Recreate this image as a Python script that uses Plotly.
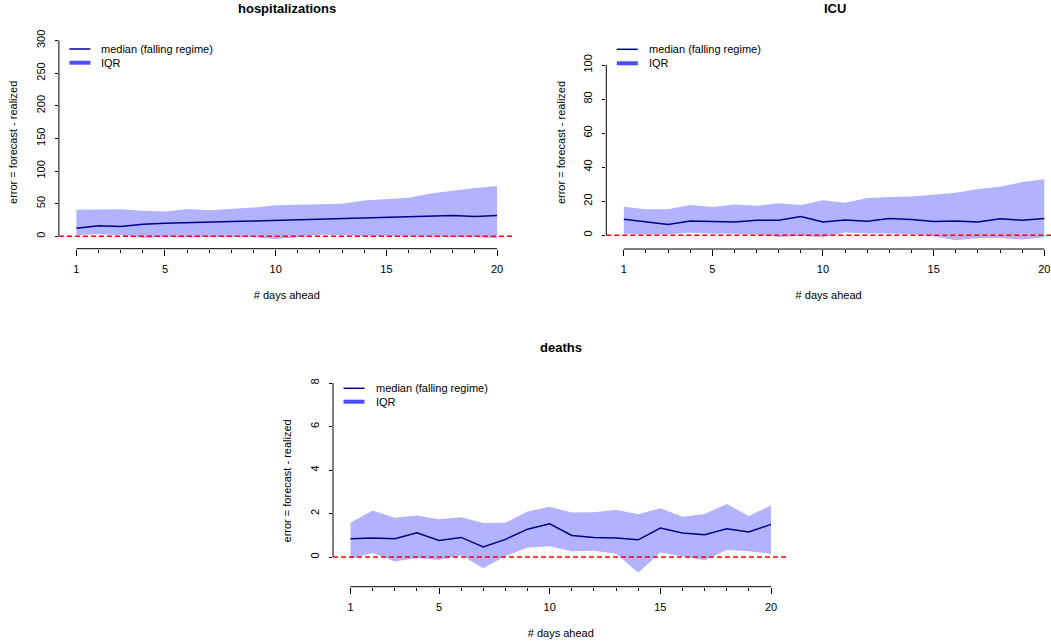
import plotly.graph_objects as go

# ---------------- data ----------------
days = list(range(1, 21))

hosp_upper = [40.5, 41, 41.5, 39, 38, 42, 40, 42, 44, 47.5, 48.5, 49, 50, 55, 57.5, 59, 65.5, 70, 74, 77]
hosp_median = [12.3, 16, 15, 18.5, 20, 20.5, 21, 22.5, 23.5, 24.5, 25.5, 26, 27, 28, 28.5, 29.5, 31.5, 32, 30.5, 32]
hosp_lower = [2, 3, 1.5, -2.5, -1, -2, -1, -0.5, -1.5, -4, -1.5, 2.5, 1.5, 0, 0, -0.5, 0, -0.5, -1, -3]

icu_upper = [16.7, 15.3, 15.3, 17.8, 16.5, 18, 17.3, 18.8, 17.8, 20.6, 19, 21.8, 22.4, 22.7, 23.9, 24.9, 27.1, 28.4, 31.2, 32.9]
icu_median = [9.4, 7.8, 6.3, 8.4, 8.2, 7.8, 8.8, 8.8, 11, 7.8, 9, 8.2, 9.8, 9.2, 8, 8.4, 7.8, 9.6, 8.8, 9.8]
icu_lower = [0.8, 0.4, 0.6, 1.4, 0.8, 0.8, 0.2, -1, -0.4, -1.2, 1.6, 1, 1, 0.6, -0.8, -2.9, -1.8, -1.6, -2.5, -1.2]

deaths_upper = [1.57, 2.14, 1.8, 1.91, 1.74, 1.83, 1.56, 1.57, 2.09, 2.31, 2.05, 2.06, 2.17, 1.97, 2.24, 1.85, 1.98, 2.44, 1.88, 2.37]
deaths_median = [0.84, 0.87, 0.84, 1.11, 0.76, 0.9, 0.46, 0.81, 1.28, 1.53, 0.99, 0.9, 0.87, 0.79, 1.33, 1.1, 1.02, 1.3, 1.15, 1.5]
deaths_lower = [-0.09, 0.18, -0.21, -0.05, -0.14, 0.08, -0.52, 0.05, 0.43, 0.5, 0.26, 0.29, 0.15, -0.72, 0.21, 0.03, -0.15, 0.32, 0.27, 0.15]

x_tickvals = [1, 5, 10, 15, 20]
hosp_yticks = [0, 50, 100, 150, 200, 250, 300]
icu_yticks = [0, 20, 40, 60, 80, 100]
deaths_yticks = [0, 2, 4, 6, 8]

titles = ["hospitalizations", "ICU", "deaths"]
legend_labels = ["median (falling regime)", "IQR"]
x_title = "# days ahead"
y_title = "error = forecast - realized"

# ---------------- layout geometry (pixels) ----------------
W, H = 1051, 642
FONT = "Liberation Sans, Arial, Helvetica, sans-serif"
MEDIAN_COLOR = "#00008B"
FILL_COLOR = "rgba(0,0,255,0.3)"
IQR_LEGEND_COLOR = "rgba(0,0,255,0.7)"

panels = [
    dict(upper=hosp_upper, median=hosp_median, lower=hosp_lower, yticks=hosp_yticks,
         left=58.9, right=514.6, p1=76.4, p20=497.1, axis_y=248.7, top=36,
         v0px=236.3, vrefpx=40.5, title_x=286.7, title_y=8.3, leg_y=(49, 62.7)),
    dict(upper=icu_upper, median=icu_median, lower=icu_lower, yticks=icu_yticks,
         left=606.3, right=1051, p1=623.8, p20=1044.3, axis_y=249, top=36,
         v0px=235.2, vrefpx=65, title_x=835, title_y=8.3, leg_y=(49.3, 63.3)),
    dict(upper=deaths_upper, median=deaths_median, lower=deaths_lower, yticks=deaths_yticks,
         left=333, right=788.6, p1=350.5, p20=771, axis_y=586.7, top=375,
         v0px=557, vrefpx=383, title_x=561, title_y=347.3, leg_y=(388.3, 401.7)),
]


def fx(px):
    return px / W


def fy(py):
    return 1 - py / H


fig = go.Figure()
shapes = []
annotations = []

for i, p in enumerate(panels):
    n = "" if i == 0 else str(i + 1)
    xa, ya = "x" + n, "y" + n

    # IQR band
    fig.add_trace(go.Scatter(
        x=days + days[::-1], y=p["lower"] + p["upper"][::-1],
        fill="toself", fillcolor=FILL_COLOR, line=dict(width=0),
        mode="lines", showlegend=False, hoverinfo="skip", xaxis=xa, yaxis=ya,
        name="IQR"))
    # median line
    fig.add_trace(go.Scatter(
        x=days, y=p["median"], mode="lines",
        line=dict(color=MEDIAN_COLOR, width=1.5), showlegend=False,
        xaxis=xa, yaxis=ya, name="median (falling regime)"))

    s = (p["p20"] - p["p1"]) / 19.0
    xr = [1 + (p["left"] - p["p1"]) / s, 1 + (p["right"] - p["p1"]) / s]
    vref = p["yticks"][-1]
    k = (p["v0px"] - p["vrefpx"]) / vref
    yr = [-(p["axis_y"] - p["v0px"]) / k, (p["v0px"] - p["top"]) / k]

    fig.update_layout(**{
        "xaxis" + n: dict(
            domain=[fx(p["left"]), fx(p["right"])], range=xr, anchor=ya,
            tickmode="array", tickvals=x_tickvals, ticktext=[str(v) for v in x_tickvals],
            ticks="outside", ticklen=6, tickwidth=1, tickcolor="black",
            minor=dict(tickmode="linear", tick0=1, dtick=1, ticks="outside",
                       ticklen=3, tickwidth=1, tickcolor="black", showgrid=False),
            showline=False, showgrid=False, zeroline=False,
            tickfont=dict(family=FONT, size=11, color="black"),
            ticklabelstandoff=4,
            title=dict(text=x_title, font=dict(family=FONT, size=11, color="black"),
                       standoff=17),
        ),
        "yaxis" + n: dict(
            domain=[fy(p["axis_y"]), fy(p["top"])], range=yr, anchor=xa,
            tickmode="array", tickvals=p["yticks"], ticktext=[str(v) for v in p["yticks"]],
            ticks="outside", ticklen=3, tickwidth=1, tickcolor="black",
            tickangle=-90, showline=False, showgrid=False, zeroline=False,
            tickfont=dict(family=FONT, size=11, color="black"),
            ticklabelstandoff=6,
            title=dict(text=y_title, font=dict(family=FONT, size=11, color="black"),
                       standoff=14),
        ),
    })

    xd = xa + " domain"
    yd = ya + " domain"
    # x-axis line from first to last tick
    shapes.append(dict(type="line", xref=xa, yref=yd, x0=1, x1=20, y0=0, y1=0,
                       line=dict(color="black", width=1)))
    # y-axis line from first to last tick
    shapes.append(dict(type="line", xref=xd, yref=ya, x0=0, x1=0, y0=0, y1=vref,
                       line=dict(color="black", width=1)))
    # red dashed zero line
    shapes.append(dict(type="line", xref=xd, yref=ya, x0=0, x1=1, y0=0, y1=0,
                       line=dict(color="red", width=1.5, dash="5px,3px")))

    # panel title
    annotations.append(dict(text="<b>" + titles[i] + "</b>", xref="paper", yref="paper",
                            x=fx(p["title_x"]), y=fy(p["title_y"]), xanchor="center",
                            yanchor="middle", showarrow=False,
                            font=dict(family=FONT, size=13, color="black")))

    # legend (drawn manually to match R legend geometry)
    lx0 = p["left"] + 10.5
    lx1 = lx0 + 21
    tx = lx0 + 30
    shapes.append(dict(type="line", xref="paper", yref="paper",
                       x0=fx(lx0), x1=fx(lx1), y0=fy(p["leg_y"][0]), y1=fy(p["leg_y"][0]),
                       line=dict(color=MEDIAN_COLOR, width=1.5)))
    shapes.append(dict(type="line", xref="paper", yref="paper",
                       x0=fx(lx0), x1=fx(lx1), y0=fy(p["leg_y"][1]), y1=fy(p["leg_y"][1]),
                       line=dict(color=IQR_LEGEND_COLOR, width=4)))
    for j, lab in enumerate(legend_labels):
        annotations.append(dict(text=lab, xref="paper", yref="paper",
                                x=fx(tx), y=fy(p["leg_y"][j]), xanchor="left",
                                yanchor="middle", showarrow=False,
                                font=dict(family=FONT, size=11, color="black")))

fig.update_layout(
    width=W, height=H, margin=dict(l=0, r=0, t=0, b=0, autoexpand=False),
    paper_bgcolor="white", plot_bgcolor="white",
    shapes=shapes, annotations=annotations, showlegend=False,
    font=dict(family=FONT, size=11, color="black"),
)

fig.write_html("out.html", config={"displayModeBar": False},
               post_script="document.body.style.margin='0px';")
